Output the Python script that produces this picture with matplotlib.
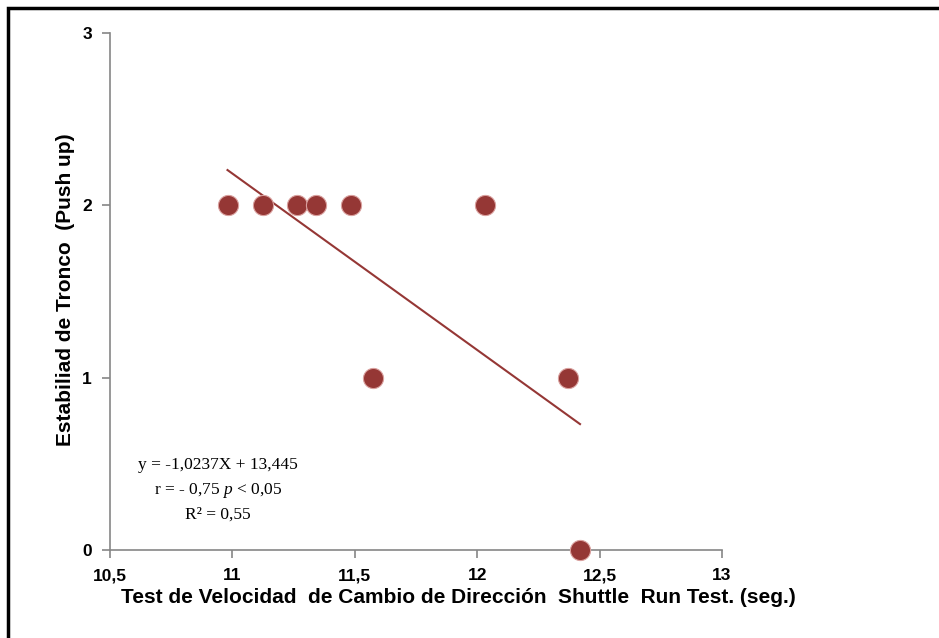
import numpy as np
from matplotlib import pyplot as plt
from matplotlib.patches import Rectangle

# shuttle run test (seg.) vs push up score
shuttle = [10.98, 11.125, 11.265, 11.34, 11.485, 12.03, 11.575, 12.37, 12.42]
push_up = [2, 2, 2, 2, 2, 2, 1, 1, 0]
slope = -1.0237
intercept = 13.445
xticks = [10.5, 11, 11.5, 12, 12.5, 13]
xlabels = ["10,5", "11", "11,5", "12", "12,5", "13"]
yticks = [0, 1, 2, 3]

plt.rcParams['font.family'] = ['Liberation Sans', 'DejaVu Sans']
plt.rcParams['mathtext.fontset'] = 'custom'
plt.rcParams['mathtext.rm'] = 'Liberation Serif'
plt.rcParams['mathtext.it'] = 'Liberation Serif:italic'

fig = plt.figure(figsize=(9.39, 6.38), dpi=100)
ax = fig.add_axes([110/939, 88/638, 612/939, 517/638])

col = "#953735"
ax.scatter(shuttle, push_up, s=210, color=col, edgecolors="#d9a09e", linewidths=0.8, zorder=3, clip_on=False)
xl = np.array([min(shuttle), max(shuttle)])
ax.plot(xl, slope*xl + intercept, color=col, lw=1.5, zorder=2)

ax.set_xlim(10.5, 13)
ax.set_ylim(0, 3)
ax.set_xticks(xticks)
ax.set_xticklabels(xlabels)
ax.set_yticks(yticks)
for s in ["top", "right"]:
    ax.spines[s].set_visible(False)
for s in ["left", "bottom"]:
    ax.spines[s].set_color("#868686")
    ax.spines[s].set_linewidth(1.2)
ax.tick_params(direction="out", length=6, color="#868686", width=1.2, labelsize=12.5, pad=7)
for lab in ax.get_xticklabels() + ax.get_yticklabels():
    lab.set_fontweight("bold")

ax.set_xlabel("Test de Velocidad  de Cambio de Dirección  Shuttle  Run Test. (seg.)",
              fontsize=15, fontweight="bold", va="center")
ax.xaxis.set_label_coords(0.57, -0.092)
ax.set_ylabel("Estabiliad de Tronco  (Push up)", fontsize=15, fontweight="bold", va="center")
ax.yaxis.set_label_coords(-0.0735, 0.503)

eq_font = dict(family="Liberation Serif", fontsize=12.5, ha="center", va="center")
fig.text(218/939, 1 - 465/638, "y = -1,0237X + 13,445", **eq_font)
fig.text(218/939, 1 - 490/638, "r = - 0,75 $\\it{p}$ < 0,05", **eq_font)
fig.text(218/939, 1 - 515/638, "R² = 0,55", **eq_font)

# outer frame (only left/top edges visible in the crop)
fig.patches.append(Rectangle((8/939, -0.1), 1.2, 1 - 8/638 + 0.1, transform=fig.transFigure,
                             fill=False, edgecolor="black", lw=2.5))

fig.savefig("out.png", dpi=100)
